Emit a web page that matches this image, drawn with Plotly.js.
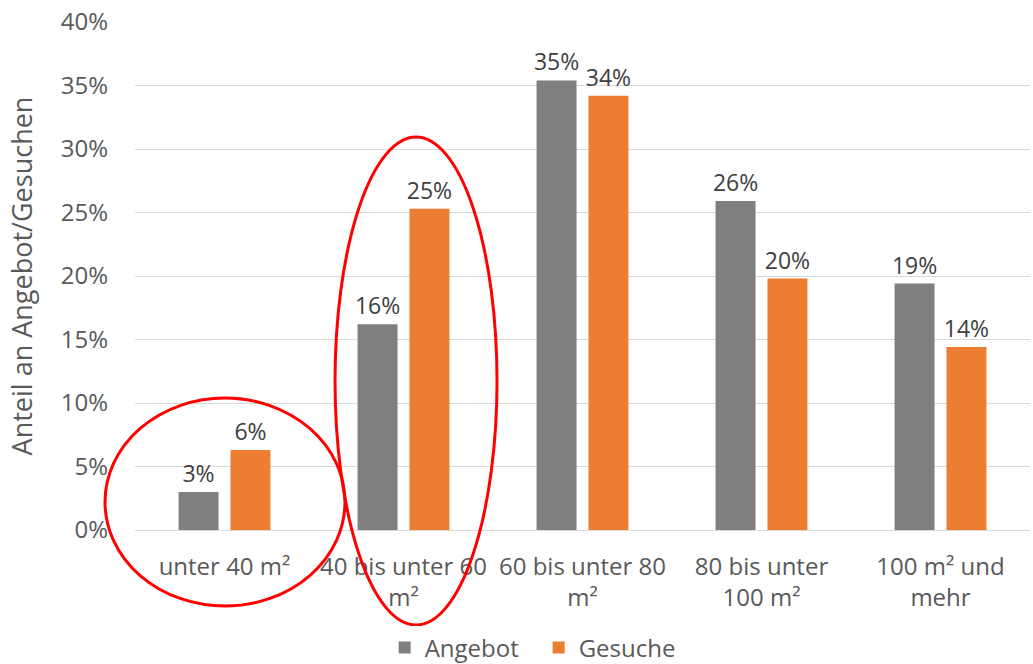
<!DOCTYPE html>
<html>
<head>
<meta charset="utf-8">
<script src="https://cdn.plot.ly/plotly-3.0.1.min.js"></script>
<style>html,body{margin:0;padding:0;background:#fff;}#chart{width:1033px;height:664px;}</style>
</head>
<body>
<div id="chart"></div>
<script>
const categories = ["unter 40 m²", "40 bis unter 60<br>m²", "60 bis unter 80<br>m²", "80 bis unter<br>100 m²", "100 m² und<br>mehr"];
const angebot = [3.0, 16.2, 35.4, 25.9, 19.4];
const gesuche = [6.3, 25.3, 34.2, 19.8, 14.4];
const angebotLabels = ["3%", "16%", "35%", "26%", "19%"];
const gesucheLabels = ["6%", "25%", "34%", "20%", "14%"];
const yTickVals = [0, 5, 10, 15, 20, 25, 30, 35, 40];
const yTickText = ["0%", "5%", "10%", "15%", "20%", "25%", "30%", "35%", "40%"];

const FONT = "Open Sans, Noto Sans, sans-serif";
const labelFont = {family: FONT, size: 23, color: "#404040"};

const traces = [
  {type: "bar", name: "Angebot", x: categories, y: angebot, text: angebotLabels,
   textposition: "outside", textfont: labelFont, cliponaxis: false, constraintext: "none",
   marker: {color: "#7f7f7f"}, hoverinfo: "none"},
  {type: "bar", name: "Gesuche", x: categories, y: gesuche, text: gesucheLabels,
   textposition: "outside", textfont: labelFont, cliponaxis: false, constraintext: "none",
   marker: {color: "#ed7d31"}, hoverinfo: "none"}
];

const layout = {
  width: 1033, height: 664,
  margin: {l: 135, r: 3, t: 22, b: 134, autoexpand: false},
  paper_bgcolor: "#fff", plot_bgcolor: "#fff",
  barmode: "group", bargap: 0.42, bargroupgap: 0.23,
  font: {family: FONT, color: "#595959", size: 24},
  xaxis: {type: "category", tickfont: {family: FONT, size: 24, color: "#595959"},
          showgrid: false, showline: false, ticks: "", automargin: false,
          ticklabelstandoff: 20},
  yaxis: {range: [0, 40], tickvals: yTickVals, ticktext: yTickText,
          tickfont: {family: FONT, size: 24, color: "#595959"},
          gridcolor: "#d9d9d9", gridwidth: 1, zeroline: true, zerolinecolor: "#d9d9d9",
          showline: false, ticks: "", ticklen: 0, automargin: false,
          ticklabelstandoff: 26,
          title: {text: "Anteil an Angebot/Gesuchen", font: {family: FONT, size: 27, color: "#595959"}, standoff: 20}},
  legend: {orientation: "h", x: 0.451, xanchor: "center", yref: "paper", y: -0.188, yanchor: "top",
           font: {family: FONT, size: 24, color: "#595959"}, traceorder: "normal",
           itemwidth: 30, entrywidth: 109, entrywidthmode: "pixels"},
  shapes: [
    {type: "circle", xref: "paper", yref: "paper", x0: -0.0335, x1: 0.2346, y0: -0.1496, y1: 0.2598,
     line: {color: "#ff0000", width: 3}},
    {type: "circle", xref: "paper", yref: "paper", x0: 0.2235, x1: 0.4045, y0: -0.187, y1: 0.7736,
     line: {color: "#ff0000", width: 3}}
  ],
  showlegend: true
};

Plotly.newPlot("chart", traces, layout, {displayModeBar: false, staticPlot: true});
</script>
</body>
</html>
